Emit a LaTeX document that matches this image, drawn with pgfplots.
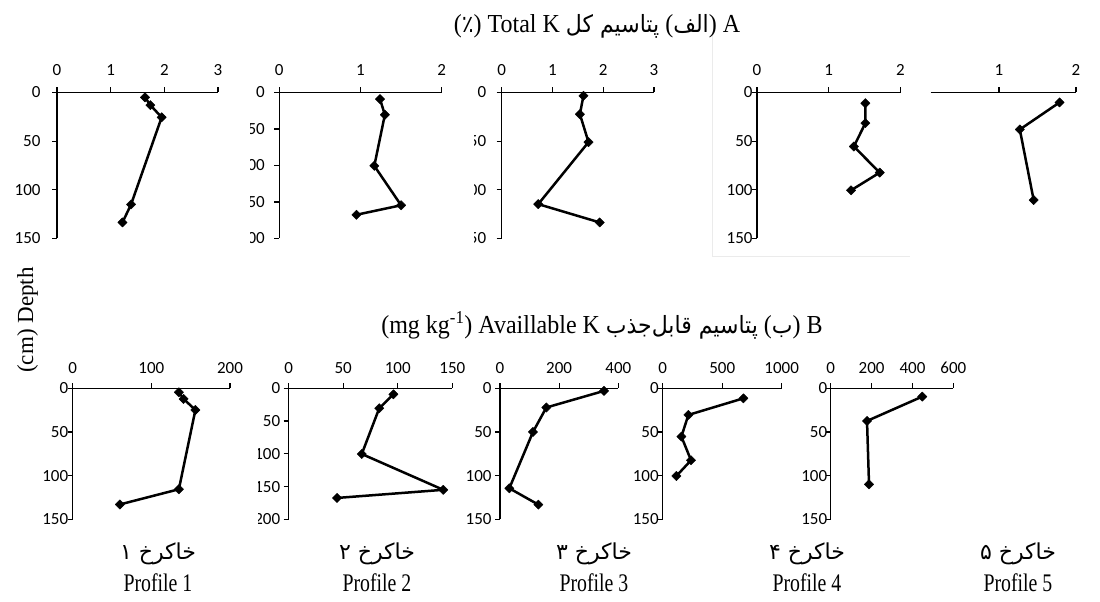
\documentclass[border=0pt]{standalone}
\usepackage{fontspec}
\usepackage{pgfplots}
\pgfplotsset{compat=1.18}
\setmainfont{Liberation Serif}
\newfontfamily\tickfont{Carlito}
\newfontfamily\arabicfont[Script=Arabic]{DejaVu Sans}
\TeXXeTstate=1
\newcommand\ar[1]{{\arabicfont\fontsize{22bp}{26bp}\selectfont #1}}
\newcommand\arb[1]{{\arabicfont\fontsize{22bp}{26bp}\selectfont #1}}

\pgfplotsset{
  prof/.style={
    scale only axis, y dir=reverse, clip=false,
    axis x line=top, axis y line=left,
    axis line style={-, line width=1.1bp, black},
    every outer x axis line/.append style={-},
    every outer y axis line/.append style={-},
    every inner x axis line/.append style={-},
    every inner y axis line/.append style={-},
    tick align=outside, major tick length=5bp,
    tick style={black, line width=1.1bp},
    ticklabel style={font={\tickfont\fontsize{17bp}{19bp}\selectfont}},
    /pgf/number format/assume math mode=true,
    /pgf/number format/1000 sep={},
    xmin=0, ymin=0, anchor=south west,
  },
  toprow/.style={prof, height=146bp, ymax=150, ytick={0,50,100,150},
    xticklabel style={yshift=8bp}},
  botrow/.style={prof, height=131bp, ymax=150, ytick={0,50,100,150},
    xticklabel style={yshift=6bp}},
  prl/.style={black, line width=2.5bp, line join=round, mark=square*, mark size=3.3bp,
    mark options={solid, rotate=45, line width=0.4bp}},
}

\begin{document}
\begin{tikzpicture}[x=1bp,y=1bp]
\useasboundingbox (0,0) rectangle (1100,602);

% faint frame around top profile 4
\draw[black!8, line width=0.8bp] (712,570) -- (712,345.5) -- (910,345.5);

% ---------- top row: Total K (%) ----------
\begin{axis}[toprow, at={(57bp,363.5bp)}, width=161bp, xmax=3, xtick={0,1,2,3},
  yticklabel style={xshift=-8bp}]
\addplot[prl] coordinates {(1.64,5) (1.74,13) (1.95,25.5) (1.38,115) (1.22,133.5)};
\end{axis}
\begin{axis}[toprow, at={(279.3bp,363.5bp)}, width=162.4bp, xmax=2, xtick={0,1,2}, ymax=200, ytick={0,50,100,150,200},
  yticklabel style={xshift=-6bp}]
\addplot[prl] coordinates {(1.24,9) (1.30,30.5) (1.17,100.5) (1.50,154.5) (0.95,167.5)};
\end{axis}
\begin{axis}[toprow, at={(501.7bp,363.5bp)}, width=152.3bp, xmax=3, xtick={0,1,2,3},
  yticklabel style={xshift=-7bp}]
\addplot[prl] coordinates {(1.61,3.4) (1.54,22.3) (1.71,51) (0.72,114.7) (1.93,133.5)};
\end{axis}
\begin{axis}[toprow, at={(757bp,363.5bp)}, width=143.5bp, xmax=2, xtick={0,1,2},
  yticklabel style={xshift=4bp}]
\addplot[prl] coordinates {(1.51,11) (1.51,31.5) (1.35,55.5) (1.71,82.3) (1.31,100.5)};
\end{axis}
\begin{axis}[toprow, at={(930.5bp,363.5bp)}, width=145.5bp, xmin=0.11, xmax=2, xtick={1,2}, axis y line=none]
\addplot[prl] coordinates {(1.786,10.2) (1.27,38) (1.45,110.5)};
\end{axis}

% ---------- bottom row: Available K (mg/kg) ----------
\begin{axis}[botrow, at={(72.7bp,82.7bp)}, width=157.3bp, xmax=200, xtick={0,100,200},
  yticklabel style={xshift=4bp}]
\addplot[prl] coordinates {(135,4.6) (141,12.2) (156,24.8) (135,115.6) (60,133)};
\end{axis}
\begin{axis}[botrow, at={(288.7bp,82.7bp)}, width=163.6bp, xmax=150, xtick={0,50,100,150}, ymax=200, ytick={0,50,100,150,200}]
\addplot[prl] coordinates {(96,9.2) (83,30.5) (67,100.3) (141.7,155) (44.3,167.4)};
\end{axis}
\begin{axis}[botrow, at={(500bp,82.7bp)}, width=118.3bp, xmax=400, xtick={0,200,400}]
\addplot[prl] coordinates {(351.5,3) (156.6,22) (111.5,50) (31.5,114.5) (129.6,133.2)};
\end{axis}
\begin{axis}[botrow, at={(662.7bp,82.7bp)}, width=119bp, xmax=1000, xtick={0,500,1000},
  yticklabel style={xshift=4.5bp}]
\addplot[prl] coordinates {(678,11.5) (215.7,30.5) (157,55.3) (238,82.4) (115,100.4)};
\end{axis}
\begin{axis}[botrow, at={(830.7bp,82.7bp)}, width=122.6bp, xmax=600, xtick={0,200,400,600},
  yticklabel style={xshift=5bp}]
\addplot[prl] coordinates {(448,9.5) (177.7,37.4) (187.5,110)};
\end{axis}

% cropped tick labels of the pasted panels
\fill[white] (222,352) rectangle (250,522);
\fill[white] (445,352) rectangle (474,522);
\fill[white] (236,72) rectangle (258,207);

% titles
\node[anchor=base, font=\fontsize{24bp}{28bp}\selectfont, yscale=1.08] at (597,569.3)
  {(\ar{٪}) Total K \ar{\beginR پتاسیم کل\endR} (\ar{\beginR الف\endR}) A};
\node[anchor=base, font=\fontsize{24bp}{28bp}\selectfont, yscale=1.08] at (602,268.7)
  {(mg kg\textsuperscript{-1}) Availlable K \ar{\beginR پتاسیم قابل^^^^200cجذب\endR} (\ar{\beginR ب\endR}) B};
\node[rotate=90, anchor=base, font=\fontsize{23bp}{27bp}\selectfont] at (33,282) {(cm) Depth};

% profile labels
\foreach \cx/\d/\n in {158/۱/1, 377/۲/2, 594/۳/3, 807/۴/4, 1018/۵/5}{
  \node[anchor=base] at (\cx,42) {\arb{\beginR خاکرخ \d\endR}};
  \node[anchor=base, font=\fontsize{22bp}{26bp}\selectfont, xscale=0.9, yscale=1.15] at (\cx,10.3) {Profile \n};
}
\end{tikzpicture}
\end{document}
